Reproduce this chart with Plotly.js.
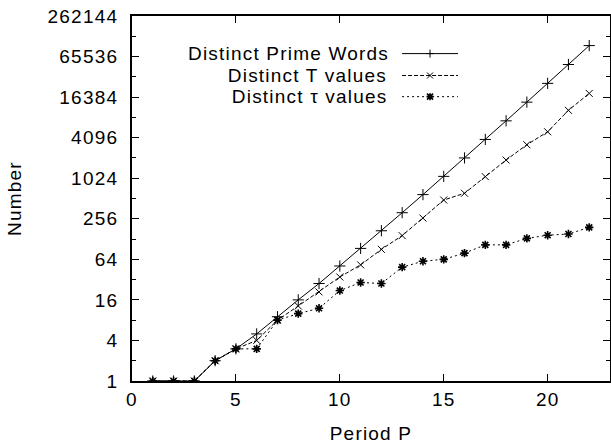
<!DOCTYPE html>
<html>
<head>
<meta charset="utf-8">
<script src="https://cdn.plot.ly/plotly-3.0.1.min.js"></script>
<style>
html,body{margin:0;padding:0;background:#fff;}
#chart{width:611px;height:444px;}
#chart svg text{letter-spacing:1.2px;}
</style>
</head>
<body>
<div id="chart"></div>
<script>
// ---- data ----
var periods = [1,2,3,4,5,6,7,8,9,10,11,12,13,14,15,16,17,18,19,20,21,22];
var primeWords = [1,1,1,2,3,5,9,16,28,51,93,170,315,585,1091,2048,3855,7280,13797,26214,49929,95325];
var tValues = [1,1,1,2,3,4,8,13,21,35,53,90,144,262,486,612,1080,1908,3215,5010,10430,18600];
var tauValues = [1,1,1,2,3,3,8,10,12,22,29,28,49,60,64,79,105,105,131,146,152,191];
var seriesNames = ["Distinct Prime Words", "Distinct T values", "Distinct \u03c4 values"];
var yTickVals = [1,4,16,64,256,1024,4096,16384,65536,262144];
var yMinorVals = [2,8,32,128,512,2048,8192,32768,131072];
var xTickVals = [0,5,10,15,20];

var FONT = "Liberation Sans, Arial, Helvetica, sans-serif";
var FS = 19;
var dashes = ["solid", "4px,2px", "2px,3px"];
var symbols = ["cross-thin-open", "x-thin-open", "asterisk-open"];
var msizes = [8, 7, 7];
var mwidths = [1, 1, 1.6];
var allSeries = [primeWords, tValues, tauValues];

var traces = allSeries.map(function (vals, i) {
  return {
    x: periods, y: vals, type: "scatter", mode: "lines+markers",
    name: seriesNames[i], showlegend: false,
    line: {color: "#000", width: 1, dash: dashes[i]},
    marker: {symbol: symbols[i], size: msizes[i], color: "#000",
             line: {color: "#000", width: mwidths[i]}}
  };
});

// custom gnuplot-like key (text left of sample)
var keyX = 0.5166, lineX0 = 0.565, lineX1 = 0.682, markX = 0.6235;
var keyY = [0.897, 0.837, 0.779];
var annotations = [], shapes = [];
var markerPaths = [
  "M-4,0H4M0,-4V4",
  "M-3,-3L3,3M-3,3L3,-3",
  "M-3.5,0H3.5M0,-3.5V3.5M-3,-3L3,3M-3,3L3,-3"
];
seriesNames.forEach(function (nm, i) {
  annotations.push({
    xref: "paper", yref: "paper", x: keyX, y: keyY[i], text: nm,
    showarrow: false, xanchor: "right", yanchor: "middle",
    font: {family: FONT, size: FS, color: "#000"}
  });
  shapes.push({
    type: "line", xref: "paper", yref: "paper",
    x0: lineX0, x1: lineX1, y0: keyY[i], y1: keyY[i],
    line: {color: "#000", width: 1, dash: dashes[i]}
  });
  shapes.push({
    type: "path", xref: "paper", yref: "paper",
    xsizemode: "pixel", ysizemode: "pixel", xanchor: markX, yanchor: keyY[i],
    path: markerPaths[i],
    line: {color: "#000", width: mwidths[i]}
  });
});

var layout = {
  width: 611, height: 444,
  margin: {l: 132, r: 1, t: 16, b: 63},
  paper_bgcolor: "#fff", plot_bgcolor: "#fff",
  font: {family: FONT, size: FS, color: "#000"},
  showlegend: false,
  xaxis: {
    range: [0, 23], tickmode: "array", tickvals: xTickVals,
    ticks: "inside", ticklen: 7, tickwidth: 1, tickcolor: "#000",
    showline: true, linecolor: "#000", linewidth: 2, mirror: "allticks",
    showgrid: false, zeroline: false,
    tickfont: {family: FONT, size: FS},
    title: {text: "Period P", font: {family: FONT, size: FS}, standoff: 18}
  },
  yaxis: {
    type: "log", range: [0, Math.log10(262144)],
    tickmode: "array", tickvals: yTickVals, ticktext: yTickVals.map(String),
    ticks: "inside", ticklen: 7, tickwidth: 1, tickcolor: "#000",
    minor: {tickmode: "array", tickvals: yMinorVals, ticks: "inside", ticklen: 4, tickcolor: "#000", tickwidth: 1, showgrid: false},
    showline: true, linecolor: "#000", linewidth: 2, mirror: "allticks",
    showgrid: false, zeroline: false, ticklabelstandoff: 8,
    tickfont: {family: FONT, size: FS},
    title: {text: "Number", font: {family: FONT, size: FS}, standoff: 28}
  },
  annotations: annotations,
  shapes: shapes
};

Plotly.newPlot("chart", traces, layout, {displayModeBar: false, staticPlot: true});
</script>
</body>
</html>
